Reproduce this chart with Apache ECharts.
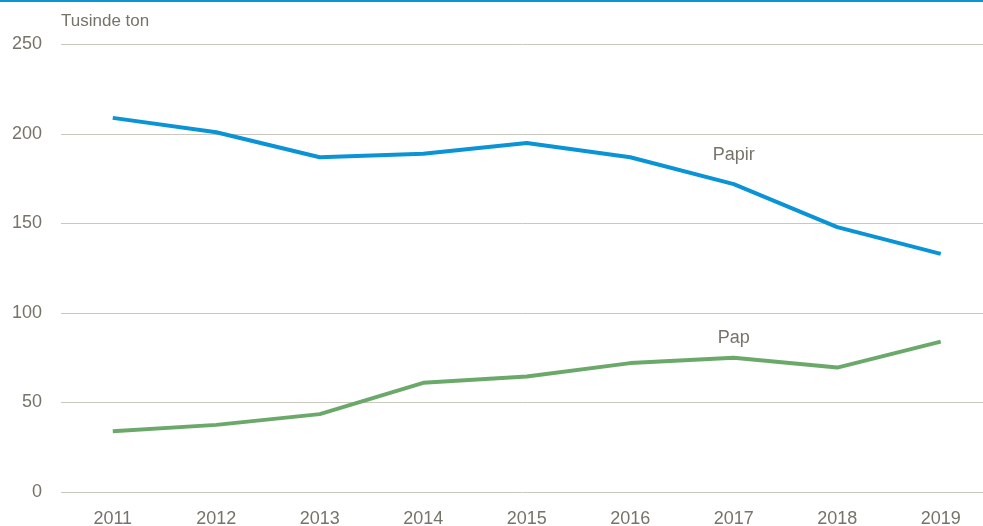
<!DOCTYPE html>
<html>
<head>
<meta charset="utf-8">
<style>
  html, body { margin: 0; padding: 0; background: #fff; }
  #chart { width: 983px; height: 526px; }
</style>
<script src="https://cdn.jsdelivr.net/npm/echarts@6/dist/echarts.min.js"></script>
</head>
<body>
<div id="chart"></div>
<script>
var years = ['2011', '2012', '2013', '2014', '2015', '2016', '2017', '2018', '2019'];
var papir = [209, 201, 187, 189, 195, 187, 172, 148, 133];
var pap = [34, 37.5, 43.5, 61, 64.5, 72, 75, 69.5, 84];
var labelYear = '2017';

var blue = '#0a94d6';
var green = '#6ba96b';
var text = '#75736a';
var rule = '#c9c8bd';
var font = 'Liberation Sans';

function withLabel(values, distance) {
  return values.map(function(v, i) {
    if (years[i] !== labelYear) return v;
    return {
      value: v,
      label: {
        show: true,
        position: 'top',
        distance: distance,
        formatter: '{a}',
        color: text,
        fontFamily: font,
        fontSize: 18
      }
    };
  });
}

var chart = echarts.init(document.getElementById('chart'), null, { renderer: 'canvas' });
chart.setOption({
  animation: false,
  backgroundColor: '#fff',
  graphic: [{
    type: 'rect',
    left: 0,
    top: 0,
    shape: { width: 983, height: 2 },
    style: { fill: blue }
  }],
  grid: {
    left: 61,
    top: 44.5,
    width: 931.5,
    height: 447.5,
    outerBoundsMode: 'none'
  },
  xAxis: {
    type: 'category',
    data: years,
    boundaryGap: true,
    axisLine: { show: false },
    axisTick: { show: false },
    axisLabel: {
      color: text,
      fontFamily: font,
      fontSize: 18,
      margin: 18
    }
  },
  yAxis: {
    type: 'value',
    min: 0,
    max: 250,
    interval: 50,
    name: 'Tusinde ton',
    nameLocation: 'end',
    nameGap: 23,
    nameTextStyle: {
      color: text,
      fontFamily: font,
      fontSize: 17,
      align: 'left',
      verticalAlign: 'middle'
    },
    axisLine: { show: false },
    axisTick: { show: false },
    axisLabel: {
      color: text,
      fontFamily: font,
      fontSize: 18,
      margin: 19
    },
    splitLine: { lineStyle: { color: rule, width: 1 } }
  },
  series: [
    {
      name: 'Papir',
      type: 'line',
      data: withLabel(papir, 20),
      symbol: 'circle',
      symbolSize: 0,
      showSymbol: true,
      lineStyle: { color: blue, width: 4 },
      itemStyle: { color: blue }
    },
    {
      name: 'Pap',
      type: 'line',
      data: withLabel(pap, 11),
      symbol: 'circle',
      symbolSize: 0,
      showSymbol: true,
      lineStyle: { color: green, width: 4 },
      itemStyle: { color: green }
    }
  ]
});
</script>
</body>
</html>
